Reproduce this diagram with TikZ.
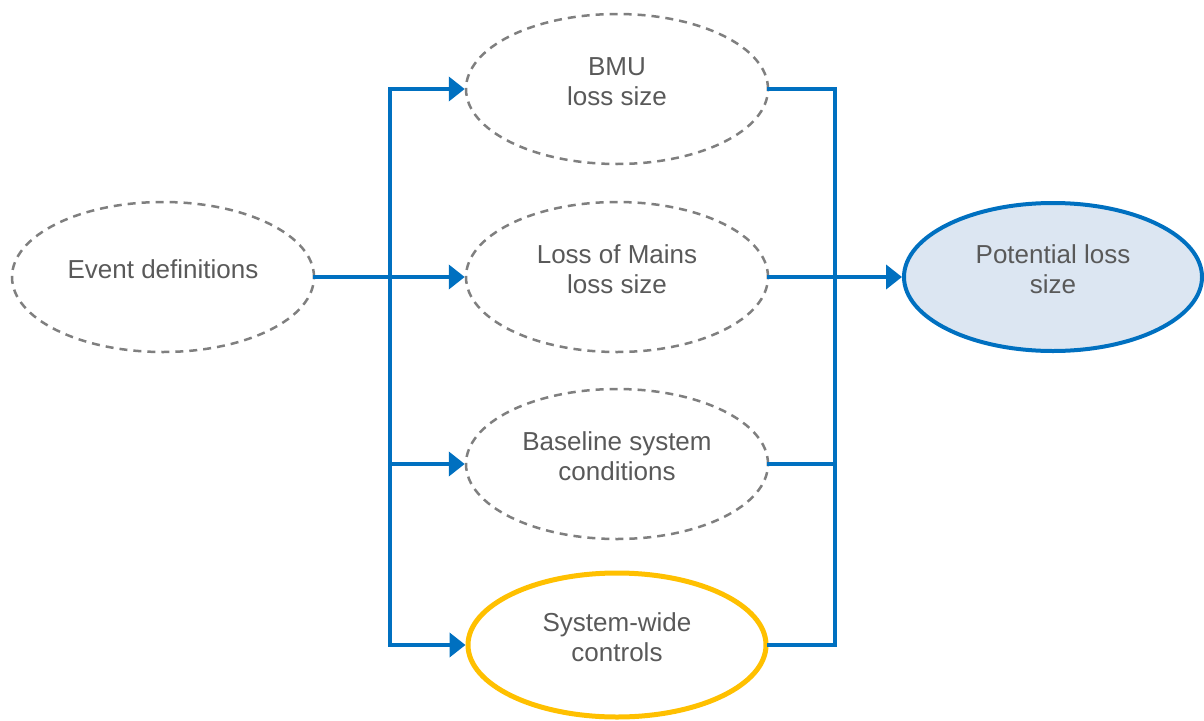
\documentclass[tikz,border=0pt]{standalone}
\usepackage{fontspec}
\setmainfont{Liberation Sans}
\usepackage{tikz}
\usetikzlibrary{arrows.meta,shapes.geometric}
\definecolor{flowblue}{HTML}{0070C0}
\definecolor{dashgray}{HTML}{7F7F7F}
\definecolor{textgray}{HTML}{595959}
\definecolor{potfill}{HTML}{DCE6F2}
\definecolor{ctrlgold}{HTML}{FFC000}

\tikzset{
  blob/.style={ellipse,minimum width=302pt,minimum height=150pt,inner sep=0pt,
    align=center,text=textgray,text depth=15pt,font=\fontsize{26}{30}\selectfont},
  dashblob/.style={blob,draw=dashgray,line width=2.5pt,dash pattern=on 8pt off 6pt},
  line/.style={draw=flowblue,line width=4pt,line cap=rect},
  flow/.style={line,-{Triangle[length=16pt,width=24pt]}}
}

\begin{document}
\begin{tikzpicture}[x=1pt,y=1pt,yscale=-1,xscale=1]
\useasboundingbox (0,0) rectangle (1204,720);

% Ellipses
\node[dashblob] (ev) at (163,277) {Event definitions};
\node[dashblob] (bmu) at (617,89) {BMU\\loss size};
\node[dashblob] (lom) at (617,277) {Loss of Mains\\loss size};
\node[dashblob] (base) at (617,464) {Baseline system\\conditions};
\node[blob,draw=ctrlgold,line width=5pt,minimum width=298pt,minimum height=144pt] (swc) at (617,645) {System-wide\\controls};
\node[blob,draw=flowblue,fill=potfill,line width=4pt,minimum width=298pt,minimum height=148pt] (pot) at (1053,277) {Potential loss\\size};

% Buses
\coordinate (lb) at (390,0);
\coordinate (rb) at (835,0);

% Left side
\draw[flow] (ev.east) -- (lom.west);
\draw[flow] (swc.west -| lb) -- (bmu.west -| lb) -- (bmu.west);
\draw[flow] (swc.west -| lb) -- (swc.west);
\draw[flow] (base.west -| lb) -- (base.west);

% Right side
\draw[line] (bmu.east) -- (bmu.east -| rb) -- (swc.east -| rb) -- (swc.east);
\draw[line] (base.east) -- (base.east -| rb);
\draw[flow] (lom.east) -- (pot.west);

\end{tikzpicture}
\end{document}
